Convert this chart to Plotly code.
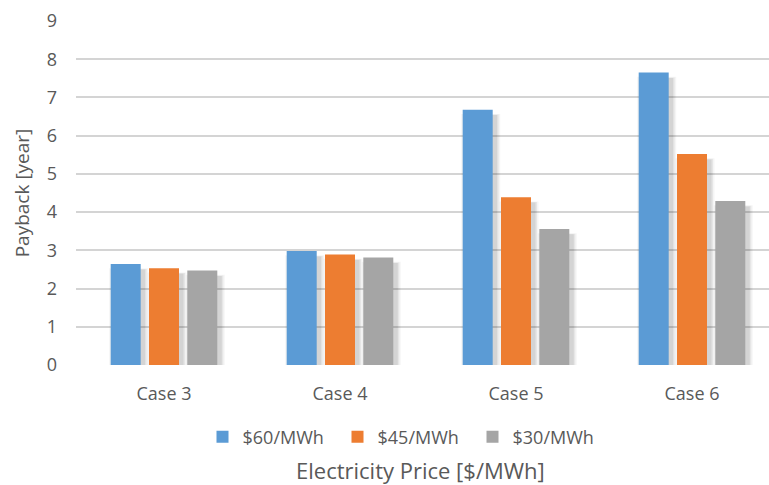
import plotly.graph_objects as go

# Payback period per case and electricity price
cases = ["Case 3", "Case 4", "Case 5", "Case 6"]
series_names = ["$60/MWh", "$45/MWh", "$30/MWh"]
payback_60 = [2.64, 2.98, 6.68, 7.65]
payback_45 = [2.53, 2.89, 4.39, 5.52]
payback_30 = [2.47, 2.81, 3.56, 4.29]
y_ticks = [0, 1, 2, 3, 4, 5, 6, 7, 8, 9]

series_values = [payback_60, payback_45, payback_30]
colors = ["#5B9BD5", "#ED7D31", "#A5A5A5"]

W, H = 769, 485
M_L, M_R, M_T, M_B = 76, 0, 21, 120
plot_w = W - M_L - M_R
plot_h = H - M_T - M_B

cat_px = 176.0                      # pixels per category
x_lo = -0.5
x_hi = x_lo + plot_w / cat_px
px_per_year = plot_h / 9.0

bar_w = 30 / cat_px
slot = 38.3 / cat_px
xs = list(range(len(cases)))

fig = go.Figure()

# soft drop shadows behind the bars
shadow_dx = 3 / cat_px
shadow_dy = 3 / px_per_year
for i, vals in enumerate(series_values):
    off = (i - 1) * slot - bar_w / 2
    for k, a in enumerate([0.04, 0.06, 0.08]):
        grow = (3 - k) * 1.5 / cat_px
        fig.add_trace(go.Bar(
            x=xs, y=[v - shadow_dy + (3 - k) * 0.6 / px_per_year for v in vals],
            base=[-shadow_dy] * len(vals),
            width=bar_w + 2 * grow, offset=off + shadow_dx - grow,
            marker=dict(color=f"rgba(0,0,0,{a})", line=dict(width=0)),
            showlegend=False, hoverinfo="skip",
        ))

for i, (name, vals, c) in enumerate(zip(series_names, series_values, colors)):
    fig.add_trace(go.Bar(
        x=xs, y=vals, name=name,
        width=bar_w, offset=(i - 1) * slot - bar_w / 2,
        marker=dict(color=c, line=dict(width=0)),
    ))

font_family = "Open Sans, Segoe UI, sans-serif"
text_color = "#595959"

fig.update_layout(
    width=W, height=H,
    margin=dict(l=M_L, r=M_R, t=M_T, b=M_B, pad=0),
    barmode="overlay",
    plot_bgcolor="white", paper_bgcolor="white",
    font=dict(family=font_family, color=text_color, size=18),
    xaxis=dict(
        range=[x_lo, x_hi], tickmode="array", tickvals=xs, ticktext=cases,
        showgrid=False, zeroline=False, showline=False, ticks="",
        tickfont=dict(size=18, color=text_color), ticklabelstandoff=16,
    ),
    yaxis=dict(
        range=[0, 9], tickmode="array", tickvals=y_ticks,
        showgrid=True, gridcolor="#D4D4D4", gridwidth=1.5,
        zeroline=False, showline=False, ticks="",
        tickfont=dict(size=18, color=text_color), ticklabelstandoff=18,
        title=dict(text="Payback [year]", font=dict(size=19, color=text_color), standoff=12),
    ),
    legend=dict(
        orientation="h", xref="container", yref="container",
        x=405 / W, xanchor="center", y=1 - 437 / H, yanchor="middle",
        font=dict(size=18, color=text_color),
        entrywidth=90, entrywidthmode="pixels",
        traceorder="normal", bgcolor="rgba(0,0,0,0)",
    ),
    annotations=[dict(
        text="Electricity Price [$/MWh]", xref="paper", yref="paper",
        x=(420 - M_L) / plot_w, y=-(470 - (M_T + plot_h)) / plot_h,
        xanchor="center", yanchor="middle", showarrow=False,
        font=dict(size=22, color=text_color),
    )],
)

fig.write_html("out.html")
